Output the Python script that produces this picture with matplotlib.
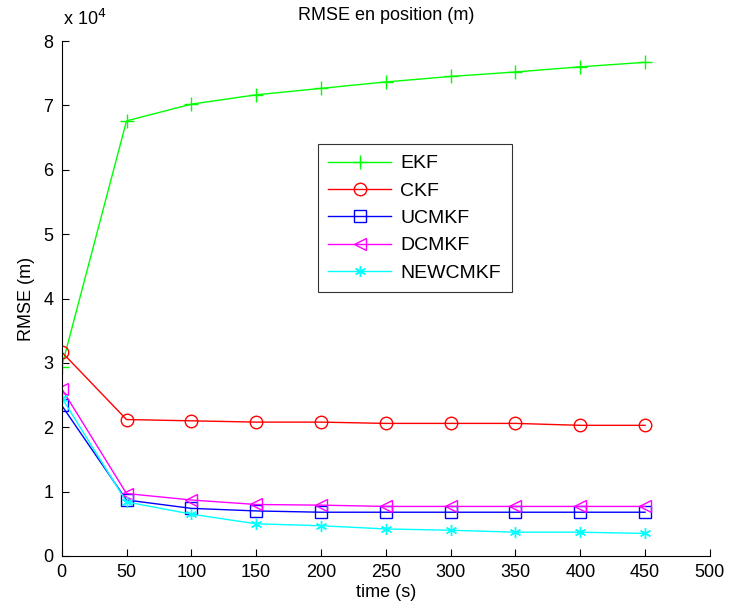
import matplotlib
matplotlib.use("Agg")
import matplotlib.pyplot as plt

plt.rcParams['font.family'] = ['Liberation Sans', 'DejaVu Sans']

time_s = [0, 50, 100, 150, 200, 250, 300, 350, 400, 450]
ekf = [29400, 67600, 70200, 71650, 72650, 73650, 74500, 75200, 76000, 76700]
ckf = [31700, 21200, 21000, 20800, 20800, 20600, 20600, 20600, 20300, 20300]
ucmkf = [23400, 8700, 7400, 7000, 6800, 6800, 6800, 6800, 6800, 6800]
dcmkf = [26000, 9700, 8700, 8000, 7900, 7700, 7700, 7700, 7700, 7700]
newcmkf = [24600, 8400, 6500, 5000, 4700, 4200, 4000, 3700, 3700, 3500]

# asterisk marker: six spokes from the centre
asterisk = (6, 2, 0)

series = [
    ("EKF", ekf, "#00ff00", "+"),
    ("CKF", ckf, "#ff0000", "o"),
    ("UCMKF", ucmkf, "#0000ff", "s"),
    ("DCMKF", dcmkf, "#ff00ff", "<"),
    ("NEWCMKF", newcmkf, "#00ffff", asterisk),
]

fig = plt.figure(figsize=(7.3, 6.13), dpi=100)
ax = fig.add_axes([0.0845, 0.093, 0.888, 0.84])

for name, vals, col, mk in series:
    ms = 10 if mk in ("+",) else 9
    if mk == asterisk:
        ms = 8
    ax.plot(time_s, [v / 1e4 for v in vals], color=col, marker=mk, lw=1,
            ms=ms, mfc="none", mec=col, mew=1, label=name)

ax.set_xlim(0, 500)
ax.set_ylim(0, 8)
ax.set_xticks(range(0, 501, 50))
ax.set_yticks(range(0, 9))
ax.tick_params(direction="in", labelsize=13, length=5, width=0.8, pad=6)
ax.spines["top"].set_visible(False)
ax.spines["right"].set_visible(False)
for s in ("left", "bottom"):
    ax.spines[s].set_linewidth(0.8)

ax.set_xlabel("time (s)", fontsize=13, labelpad=2)
ax.set_ylabel("RMSE (m)", fontsize=13, labelpad=6)
ax.set_title("RMSE en position (m)", fontsize=13, pad=15)
fig.text(0.086, 0.952, r"x 10$^4$", fontsize=13, ha="left", va="bottom")

leg = ax.legend(loc="upper left", bbox_to_anchor=(0.395, 0.80), borderaxespad=0,
                fontsize=14, frameon=True, fancybox=False, edgecolor="black",
                handlelength=3.2, handletextpad=0.5, borderpad=0.55,
                labelspacing=0.5)
leg.get_frame().set_linewidth(0.8)

fig.savefig("out.png", dpi=100)
